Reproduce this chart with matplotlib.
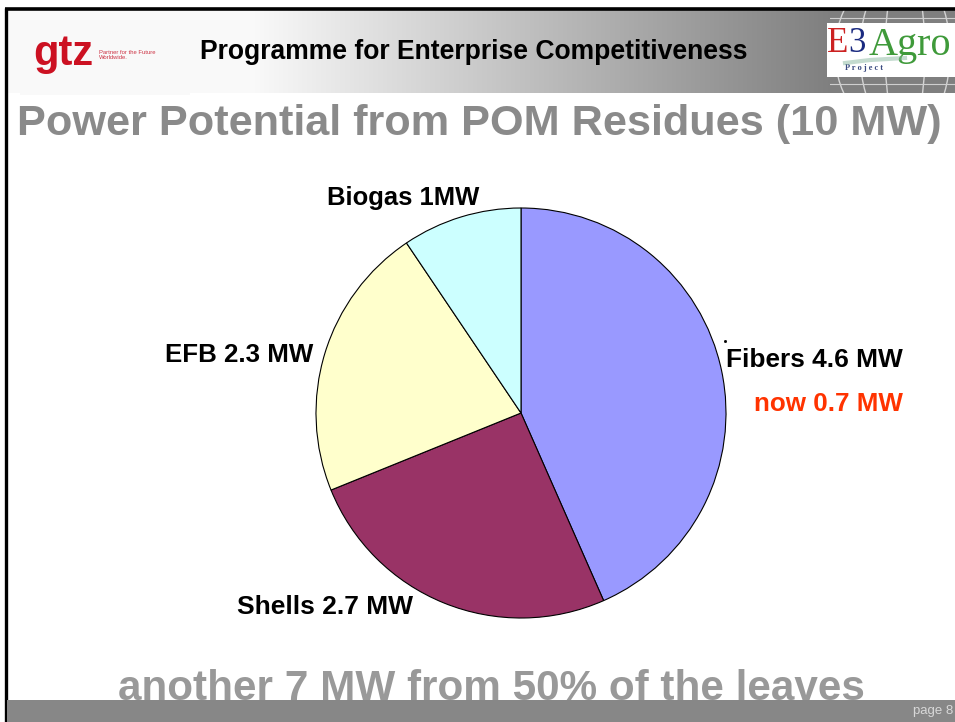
import matplotlib
matplotlib.use("Agg")
import matplotlib.pyplot as plt
import numpy as np
from matplotlib.patches import Rectangle, Ellipse

# ---- data ----
categories = ["Fibers", "Shells", "EFB", "Biogas"]
values = [4.6, 2.7, 2.3, 1.0]
slice_labels = ["Fibers 4.6 MW", "Shells 2.7 MW", "EFB 2.3 MW", "Biogas 1MW"]
colors = ["#9999FF", "#993366", "#FFFFCC", "#CCFFFF"]
note_fibers = "now 0.7 MW"
header_text = "Programme for Enterprise Competitiveness"
title_text = "Power Potential from POM Residues (10 MW)"
bottom_text = "another 7 MW from 50% of the leaves"
page_text = "page 8"

W, H = 955, 722
plt.rcParams['font.family'] = ['Liberation Sans', 'DejaVu Sans']
fig = plt.figure(figsize=(W / 100, H / 100), dpi=100)
ax = fig.add_axes([0, 0, 1, 1])


def Y(py):
    return H - py


renderer = fig.canvas.get_renderer()


def fit_text(x, y, s, width, ha="left", va="center", **kw):
    t = ax.text(x, y, s, ha=ha, va=va, fontsize=20, **kw)
    w = t.get_window_extent(renderer=renderer).width
    t.set_fontsize(20 * width / w)
    return t


# header gradient band
xs = np.linspace(5, W, 600)
g = 0.98 - (0.98 - 0.50) * np.clip((xs - 250) / 580, 0, 1)
img = np.dstack([g, g, g]).repeat(2, axis=0)
ax.imshow(img, extent=[5, W, Y(93), Y(10)], aspect="auto", zorder=0, interpolation="bilinear")

# globe lines behind E3 logo (clipped to header band)
band = Rectangle((830, Y(93)), W - 830, 83, transform=ax.transData, facecolor="none", edgecolor="none")
ax.add_patch(band)
for w_ in [40, 90, 140, 200]:
    e = Ellipse((905, Y(52)), w_, 170, fill=False, edgecolor="#d4d4d4", lw=1.0, zorder=1)
    ax.add_patch(e)
    e.set_clip_path(band)
for yy in [18, 32, 84]:
    ln, = ax.plot([830, W], [Y(yy), Y(yy)], color="#cfcfcf", lw=0.8, zorder=1)
    ln.set_clip_path(band)

# gtz logo area
ax.add_patch(Rectangle((20, Y(95)), 170, 80, facecolor="#f9f9f9", edgecolor="none", zorder=1))
ax.text(33, Y(54), "gtz", color="#cc1122", fontsize=30, fontweight="bold", ha="left", va="center", zorder=2)
ax.text(99, Y(55), "Partner for the Future\nWorldwide.", color="#cc3344", fontsize=4.2,
        ha="left", va="center", linespacing=1.2, zorder=2)

# E3 Agro logo box
logo_box = Rectangle((827, Y(77)), 128, 54, facecolor="white", edgecolor="none", zorder=2)
ax.add_patch(logo_box)
t1 = ax.text(827, Y(44), "E", color="#cc2222", fontsize=25, family="Liberation Serif", ha="left", va="center", zorder=3)
t2 = ax.text(848, Y(44), "3", color="#1a2a80", fontsize=25, family="Liberation Serif", ha="left", va="center", zorder=3)
t3 = ax.text(869, Y(45), "Agro", color="#3f9a3a", fontsize=29, family="Liberation Serif", ha="left", va="center", zorder=3)
t4 = ax.text(845, Y(68), "P r o j e c t", color="#3a4a80", fontsize=6, fontweight="bold", family="Liberation Serif",
             ha="left", va="center", zorder=3)
for t in (t1, t2, t3, t4):
    t.set_clip_path(logo_box)
sw, = ax.plot([845, 870, 905], [Y(63), Y(60), Y(58)], color="#8ab8a0", lw=3, alpha=0.5, zorder=3)

# borders
ax.plot([5, W], [Y(8.5), Y(8.5)], color="black", lw=2.6, zorder=5, solid_capstyle="butt")
ax.plot([6, 6], [Y(8), 0], color="black", lw=2.4, zorder=5, solid_capstyle="butt")

# header text
fit_text(200, Y(52), header_text, 548, fontweight="bold", color="black", zorder=4)

# title
fit_text(17, Y(124), title_text, 926, fontweight="bold", color="#8a8a8a", zorder=4)

# pie
wedges, _ = ax.pie(values, colors=colors, startangle=90, counterclock=False,
                   center=(521, Y(413)), radius=205,
                   wedgeprops=dict(edgecolor="black", linewidth=0.8))
for w_ in wedges:
    w_.set_zorder(3)

# slice labels
label_pos = {
    "Fibers": (903, 360, "right"),
    "Shells": (237, 607, "left"),
    "EFB": (165, 355, "left"),
    "Biogas": (327, 198, "left"),
}
label_width = {"Fibers": 176, "Shells": 176, "EFB": 148, "Biogas": 152}
for cat, lab in zip(categories, slice_labels):
    x, yy, ha = label_pos[cat]
    fit_text(x, Y(yy), lab, label_width[cat], ha=ha, fontweight="bold", color="black", zorder=4)
fit_text(903, Y(404), note_fibers, 149, ha="right", fontweight="bold", color="#FF3300", zorder=4)
ax.plot([725], [Y(341)], marker="s", ms=1, color="black", zorder=4)

# bottom text and bar
fit_text(118, Y(689), bottom_text, 748, fontweight="bold", color="#999999", zorder=4)
ax.add_patch(Rectangle((7, 0), W - 7, 22, facecolor="#878787", edgecolor="none", zorder=6))
ax.text(953, Y(711), page_text, color="#d8d8d8", fontsize=9.5, ha="right", va="center", zorder=7)

ax.set_xlim(0, W)
ax.set_ylim(0, H)
ax.set_aspect("auto")
ax.axis("off")
fig.savefig("out.png", dpi=100, facecolor="white")
